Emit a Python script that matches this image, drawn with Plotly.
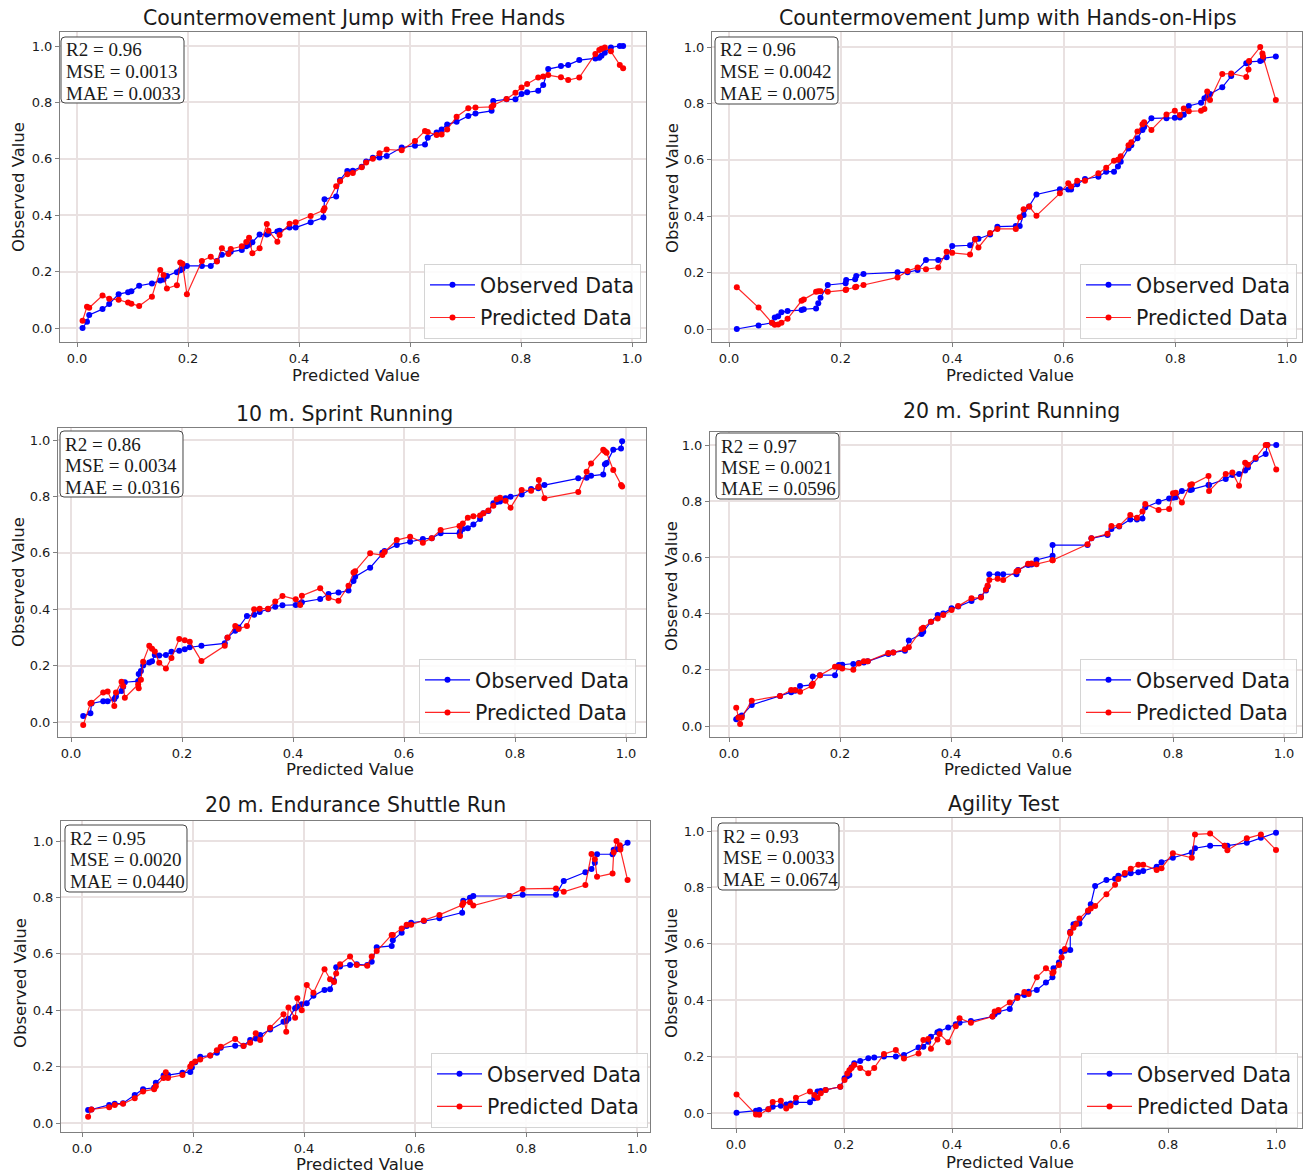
import plotly.graph_objects as go

W, H = 1308, 1173

# ---------------- DATA ----------------
titles = ["Countermovement Jump with Free Hands", "Countermovement Jump with Hands-on-Hips",
          "10 m. Sprint Running", "20 m. Sprint Running",
          "20 m. Endurance Shuttle Run", "Agility Test"]
r2_vals = ["0.96", "0.96", "0.86", "0.97", "0.95", "0.93"]
mse_vals = ["0.0013", "0.0042", "0.0034", "0.0021", "0.0020", "0.0033"]
mae_vals = ["0.0033", "0.0075", "0.0316", "0.0596", "0.0440", "0.0674"]
tick_vals = [0.0, 0.2, 0.4, 0.6, 0.8, 1.0]
tick_text = ["0.0", "0.2", "0.4", "0.6", "0.8", "1.0"]

cmj_free_x = [0.010, 0.018, 0.022, 0.046, 0.058, 0.075, 0.092, 0.098, 0.112, 0.135, 0.150, 0.156, 0.162, 0.180, 0.186, 0.190, 0.198, 0.225, 0.241, 0.252, 0.261, 0.273, 0.277, 0.297, 0.305, 0.310, 0.316, 0.329, 0.342, 0.345, 0.361, 0.365, 0.383, 0.394, 0.421, 0.444, 0.446, 0.467, 0.474, 0.487, 0.497, 0.513, 0.521, 0.533, 0.545, 0.558, 0.585, 0.609, 0.627, 0.632, 0.648, 0.657, 0.667, 0.684, 0.705, 0.718, 0.747, 0.750, 0.774, 0.790, 0.801, 0.811, 0.831, 0.840, 0.849, 0.872, 0.885, 0.905, 0.934, 0.941, 0.945, 0.951, 0.962, 0.978, 0.984]
cmj_free_obs = [0.000, 0.022, 0.046, 0.067, 0.085, 0.120, 0.127, 0.130, 0.150, 0.158, 0.168, 0.172, 0.184, 0.198, 0.205, 0.210, 0.220, 0.220, 0.220, 0.238, 0.260, 0.265, 0.270, 0.277, 0.290, 0.295, 0.304, 0.332, 0.332, 0.335, 0.342, 0.345, 0.356, 0.356, 0.375, 0.392, 0.457, 0.466, 0.525, 0.557, 0.558, 0.572, 0.590, 0.604, 0.605, 0.610, 0.640, 0.646, 0.651, 0.675, 0.693, 0.704, 0.722, 0.731, 0.752, 0.761, 0.770, 0.805, 0.811, 0.811, 0.830, 0.836, 0.841, 0.862, 0.918, 0.929, 0.933, 0.950, 0.956, 0.958, 0.965, 0.976, 0.995, 1.000, 1.000]
cmj_free_pred = [0.026, 0.075, 0.072, 0.115, 0.104, 0.100, 0.090, 0.086, 0.078, 0.111, 0.206, 0.188, 0.140, 0.152, 0.232, 0.228, 0.120, 0.238, 0.253, 0.236, 0.283, 0.262, 0.280, 0.290, 0.305, 0.320, 0.265, 0.283, 0.369, 0.345, 0.306, 0.330, 0.370, 0.375, 0.397, 0.417, 0.425, 0.503, 0.520, 0.545, 0.550, 0.570, 0.587, 0.600, 0.620, 0.633, 0.630, 0.663, 0.699, 0.695, 0.684, 0.686, 0.704, 0.749, 0.779, 0.782, 0.784, 0.790, 0.812, 0.834, 0.853, 0.865, 0.888, 0.892, 0.897, 0.889, 0.879, 0.888, 0.972, 0.986, 0.990, 0.995, 0.981, 0.933, 0.921]

cmj_hips_x = [0.014, 0.053, 0.077, 0.082, 0.088, 0.094, 0.105, 0.130, 0.134, 0.156, 0.160, 0.164, 0.177, 0.209, 0.210, 0.226, 0.228, 0.241, 0.302, 0.320, 0.338, 0.353, 0.375, 0.390, 0.400, 0.432, 0.441, 0.447, 0.468, 0.481, 0.514, 0.521, 0.528, 0.538, 0.551, 0.593, 0.608, 0.613, 0.624, 0.638, 0.662, 0.676, 0.690, 0.697, 0.702, 0.716, 0.721, 0.732, 0.741, 0.744, 0.757, 0.784, 0.799, 0.808, 0.815, 0.824, 0.846, 0.852, 0.857, 0.862, 0.884, 0.900, 0.927, 0.931, 0.932, 0.952, 0.956, 0.957, 0.980]
cmj_hips_obs = [0.000, 0.012, 0.022, 0.041, 0.045, 0.059, 0.064, 0.067, 0.070, 0.073, 0.091, 0.111, 0.156, 0.162, 0.174, 0.176, 0.188, 0.195, 0.201, 0.201, 0.209, 0.245, 0.245, 0.254, 0.294, 0.297, 0.318, 0.320, 0.335, 0.363, 0.365, 0.365, 0.404, 0.434, 0.477, 0.496, 0.495, 0.495, 0.513, 0.532, 0.540, 0.558, 0.558, 0.576, 0.593, 0.640, 0.652, 0.676, 0.706, 0.716, 0.747, 0.747, 0.749, 0.750, 0.760, 0.791, 0.802, 0.818, 0.825, 0.833, 0.857, 0.897, 0.942, 0.945, 0.947, 0.950, 0.955, 0.960, 0.966]
cmj_hips_pred = [0.148, 0.076, 0.022, 0.015, 0.016, 0.022, 0.036, 0.100, 0.105, 0.132, 0.134, 0.134, 0.132, 0.138, 0.140, 0.148, 0.150, 0.156, 0.183, 0.206, 0.218, 0.212, 0.218, 0.274, 0.270, 0.264, 0.318, 0.289, 0.340, 0.355, 0.355, 0.396, 0.425, 0.434, 0.402, 0.481, 0.517, 0.505, 0.526, 0.526, 0.552, 0.572, 0.597, 0.600, 0.613, 0.652, 0.662, 0.700, 0.726, 0.733, 0.706, 0.761, 0.774, 0.759, 0.782, 0.772, 0.774, 0.780, 0.842, 0.812, 0.904, 0.906, 0.894, 0.920, 0.950, 1.000, 0.977, 0.966, 0.812]

sprint10_x = [0.022, 0.035, 0.037, 0.058, 0.066, 0.078, 0.081, 0.091, 0.094, 0.097, 0.121, 0.122, 0.126, 0.130, 0.141, 0.146, 0.151, 0.159, 0.171, 0.181, 0.195, 0.205, 0.214, 0.235, 0.277, 0.282, 0.296, 0.302, 0.317, 0.330, 0.340, 0.355, 0.368, 0.381, 0.405, 0.413, 0.416, 0.449, 0.464, 0.482, 0.500, 0.509, 0.512, 0.539, 0.561, 0.565, 0.587, 0.611, 0.634, 0.650, 0.666, 0.700, 0.701, 0.706, 0.715, 0.725, 0.737, 0.743, 0.752, 0.761, 0.767, 0.773, 0.783, 0.792, 0.812, 0.829, 0.842, 0.843, 0.853, 0.914, 0.929, 0.937, 0.959, 0.962, 0.965, 0.977, 0.991, 0.993]
sprint10_obs = [0.021, 0.031, 0.066, 0.074, 0.074, 0.082, 0.090, 0.110, 0.125, 0.141, 0.145, 0.170, 0.181, 0.200, 0.211, 0.215, 0.238, 0.236, 0.238, 0.249, 0.253, 0.258, 0.265, 0.270, 0.279, 0.299, 0.324, 0.335, 0.376, 0.380, 0.390, 0.400, 0.409, 0.414, 0.415, 0.420, 0.425, 0.436, 0.454, 0.459, 0.466, 0.500, 0.515, 0.547, 0.600, 0.606, 0.628, 0.639, 0.649, 0.652, 0.669, 0.669, 0.675, 0.684, 0.687, 0.700, 0.720, 0.740, 0.748, 0.776, 0.780, 0.782, 0.793, 0.799, 0.807, 0.826, 0.829, 0.835, 0.840, 0.864, 0.866, 0.873, 0.878, 0.914, 0.918, 0.965, 0.970, 0.996]
sprint10_pred = [-0.011, 0.066, 0.068, 0.105, 0.108, 0.057, 0.105, 0.143, 0.128, 0.086, 0.133, 0.120, 0.150, 0.214, 0.270, 0.260, 0.250, 0.210, 0.190, 0.227, 0.294, 0.290, 0.285, 0.216, 0.270, 0.300, 0.340, 0.330, 0.340, 0.400, 0.402, 0.402, 0.427, 0.447, 0.435, 0.415, 0.448, 0.474, 0.440, 0.430, 0.483, 0.530, 0.535, 0.598, 0.592, 0.603, 0.645, 0.657, 0.636, 0.652, 0.681, 0.695, 0.660, 0.704, 0.724, 0.730, 0.732, 0.740, 0.750, 0.767, 0.790, 0.795, 0.785, 0.760, 0.823, 0.820, 0.833, 0.858, 0.793, 0.816, 0.887, 0.917, 0.965, 0.960, 0.955, 0.894, 0.840, 0.835]

sprint20_x = [0.013, 0.017, 0.020, 0.023, 0.041, 0.092, 0.112, 0.119, 0.128, 0.149, 0.151, 0.164, 0.191, 0.198, 0.204, 0.224, 0.234, 0.243, 0.250, 0.287, 0.296, 0.317, 0.324, 0.347, 0.350, 0.364, 0.376, 0.386, 0.401, 0.413, 0.437, 0.454, 0.463, 0.466, 0.469, 0.484, 0.494, 0.518, 0.521, 0.539, 0.545, 0.554, 0.583, 0.583, 0.646, 0.653, 0.682, 0.689, 0.703, 0.723, 0.735, 0.745, 0.750, 0.774, 0.793, 0.800, 0.805, 0.816, 0.831, 0.834, 0.864, 0.865, 0.895, 0.907, 0.919, 0.930, 0.935, 0.949, 0.967, 0.970, 0.986]
sprint20_obs = [0.024, 0.030, 0.033, 0.037, 0.075, 0.107, 0.120, 0.125, 0.142, 0.146, 0.176, 0.181, 0.181, 0.217, 0.218, 0.221, 0.224, 0.226, 0.230, 0.256, 0.262, 0.268, 0.304, 0.327, 0.335, 0.371, 0.395, 0.400, 0.419, 0.425, 0.445, 0.460, 0.482, 0.496, 0.540, 0.540, 0.540, 0.540, 0.555, 0.573, 0.575, 0.591, 0.606, 0.644, 0.644, 0.668, 0.680, 0.701, 0.710, 0.735, 0.735, 0.738, 0.778, 0.798, 0.810, 0.812, 0.814, 0.836, 0.840, 0.842, 0.858, 0.858, 0.879, 0.893, 0.897, 0.909, 0.920, 0.950, 0.968, 1.000, 1.000]
sprint20_pred = [0.065, 0.030, 0.007, 0.030, 0.090, 0.107, 0.128, 0.128, 0.122, 0.142, 0.150, 0.181, 0.211, 0.210, 0.205, 0.200, 0.222, 0.230, 0.230, 0.260, 0.262, 0.273, 0.280, 0.345, 0.350, 0.371, 0.383, 0.395, 0.413, 0.427, 0.455, 0.457, 0.486, 0.500, 0.520, 0.524, 0.520, 0.550, 0.553, 0.577, 0.578, 0.576, 0.590, 0.590, 0.647, 0.668, 0.684, 0.712, 0.712, 0.751, 0.741, 0.763, 0.790, 0.769, 0.772, 0.828, 0.830, 0.795, 0.858, 0.860, 0.890, 0.836, 0.897, 0.902, 0.855, 0.937, 0.930, 0.955, 1.000, 1.000, 0.913]

shuttle_x = [0.011, 0.017, 0.049, 0.059, 0.074, 0.095, 0.110, 0.130, 0.133, 0.147, 0.151, 0.155, 0.181, 0.195, 0.198, 0.204, 0.213, 0.231, 0.243, 0.250, 0.276, 0.291, 0.303, 0.313, 0.321, 0.339, 0.363, 0.368, 0.372, 0.384, 0.388, 0.396, 0.405, 0.417, 0.437, 0.447, 0.454, 0.458, 0.465, 0.483, 0.495, 0.514, 0.522, 0.531, 0.558, 0.560, 0.576, 0.585, 0.593, 0.616, 0.644, 0.685, 0.687, 0.699, 0.705, 0.770, 0.794, 0.854, 0.868, 0.907, 0.918, 0.924, 0.928, 0.956, 0.958, 0.963, 0.969, 0.970, 0.983]
shuttle_obs = [0.046, 0.048, 0.064, 0.068, 0.070, 0.099, 0.120, 0.125, 0.143, 0.168, 0.170, 0.170, 0.178, 0.181, 0.197, 0.215, 0.235, 0.239, 0.249, 0.267, 0.274, 0.274, 0.294, 0.300, 0.312, 0.332, 0.359, 0.362, 0.370, 0.407, 0.412, 0.421, 0.425, 0.451, 0.472, 0.474, 0.504, 0.552, 0.555, 0.560, 0.563, 0.560, 0.572, 0.623, 0.628, 0.648, 0.675, 0.699, 0.710, 0.716, 0.726, 0.746, 0.788, 0.799, 0.805, 0.805, 0.809, 0.809, 0.858, 0.889, 0.901, 0.923, 0.953, 0.953, 0.969, 0.971, 0.975, 0.978, 0.994]
shuttle_pred = [0.022, 0.048, 0.056, 0.064, 0.068, 0.088, 0.112, 0.120, 0.130, 0.160, 0.180, 0.160, 0.170, 0.200, 0.210, 0.218, 0.225, 0.239, 0.258, 0.270, 0.298, 0.273, 0.285, 0.318, 0.294, 0.338, 0.386, 0.324, 0.410, 0.373, 0.442, 0.400, 0.489, 0.462, 0.545, 0.510, 0.500, 0.530, 0.563, 0.590, 0.560, 0.558, 0.590, 0.610, 0.667, 0.667, 0.690, 0.703, 0.703, 0.718, 0.738, 0.773, 0.780, 0.783, 0.771, 0.805, 0.830, 0.832, 0.820, 0.844, 0.954, 0.935, 0.873, 0.885, 0.960, 1.000, 0.985, 0.970, 0.862]

agility_x = [0.001, 0.037, 0.043, 0.060, 0.068, 0.083, 0.093, 0.101, 0.111, 0.137, 0.145, 0.151, 0.157, 0.166, 0.193, 0.201, 0.206, 0.210, 0.214, 0.219, 0.230, 0.245, 0.256, 0.274, 0.296, 0.311, 0.338, 0.347, 0.356, 0.361, 0.373, 0.377, 0.393, 0.407, 0.414, 0.435, 0.475, 0.479, 0.486, 0.507, 0.521, 0.534, 0.542, 0.557, 0.574, 0.586, 0.588, 0.598, 0.603, 0.609, 0.619, 0.619, 0.625, 0.630, 0.636, 0.652, 0.657, 0.665, 0.686, 0.702, 0.708, 0.720, 0.731, 0.745, 0.754, 0.779, 0.788, 0.809, 0.844, 0.850, 0.878, 0.905, 0.910, 0.946, 0.972, 1.000]
agility_obs = [0.001, 0.008, 0.011, 0.013, 0.022, 0.026, 0.030, 0.034, 0.038, 0.038, 0.052, 0.076, 0.078, 0.082, 0.093, 0.123, 0.130, 0.135, 0.162, 0.176, 0.184, 0.194, 0.197, 0.200, 0.200, 0.206, 0.232, 0.235, 0.253, 0.270, 0.286, 0.290, 0.303, 0.315, 0.320, 0.326, 0.342, 0.350, 0.359, 0.369, 0.415, 0.418, 0.430, 0.436, 0.463, 0.481, 0.513, 0.534, 0.572, 0.575, 0.578, 0.643, 0.669, 0.672, 0.672, 0.714, 0.740, 0.805, 0.826, 0.831, 0.841, 0.845, 0.850, 0.854, 0.858, 0.873, 0.889, 0.905, 0.924, 0.939, 0.948, 0.948, 0.948, 0.958, 0.976, 0.994]
agility_pred = [0.066, -0.005, -0.006, 0.013, 0.039, 0.043, 0.016, 0.026, 0.054, 0.076, 0.064, 0.054, 0.070, 0.082, 0.093, 0.117, 0.140, 0.152, 0.160, 0.170, 0.160, 0.141, 0.160, 0.209, 0.223, 0.193, 0.211, 0.259, 0.262, 0.228, 0.261, 0.280, 0.251, 0.308, 0.336, 0.320, 0.342, 0.360, 0.365, 0.392, 0.408, 0.429, 0.422, 0.481, 0.513, 0.496, 0.500, 0.525, 0.551, 0.582, 0.637, 0.640, 0.657, 0.670, 0.690, 0.718, 0.725, 0.734, 0.776, 0.809, 0.830, 0.851, 0.866, 0.880, 0.880, 0.862, 0.868, 0.921, 0.905, 0.988, 0.991, 0.948, 0.932, 0.974, 0.988, 0.933]

series_x = [cmj_free_x, cmj_hips_x, sprint10_x, sprint20_x, shuttle_x, agility_x]
series_obs = [cmj_free_obs, cmj_hips_obs, sprint10_obs, sprint20_obs, shuttle_obs, agility_obs]
series_pred = [cmj_free_pred, cmj_hips_pred, sprint10_pred, sprint20_pred, shuttle_pred, agility_pred]

# ---------------- LAYOUT (pixel geometry) ----------------
# frame: left, right, top, bottom ; xmap: px of x=0, x=1 ; ymap: py of y=0, y=1
panels = [
    dict(frame=(60, 646, 32, 342), xmap=(77, 632), ymap=(328, 46),
         title=(354, 18), xt=(356, 375), yt=(18, 187), box=(61, 37, 184, 103), leg=(641, 339)),
    dict(frame=(712, 1302, 32, 342), xmap=(729, 1287), ymap=(329, 47),
         title=(1008, 18), xt=(1010, 375), yt=(672, 188), box=(715, 37, 838, 104), leg=(1297, 339)),
    dict(frame=(58, 646, 428, 737), xmap=(71, 626), ymap=(722, 440),
         title=(344, 414), xt=(350, 769), yt=(18, 582), box=(60, 431, 183, 497), leg=(636, 734)),
    dict(frame=(710, 1302, 432, 737), xmap=(729, 1284), ymap=(726, 445),
         title=(1012, 411), xt=(1008, 769), yt=(671, 586), box=(716, 433, 839, 499), leg=(1297, 734)),
    dict(frame=(61, 650, 821, 1132), xmap=(82, 637), ymap=(1123, 841),
         title=(355, 805), xt=(360, 1164), yt=(20, 983), box=(65, 825, 187, 892), leg=(648, 1128)),
    dict(frame=(712, 1302, 818, 1128), xmap=(736, 1276), ymap=(1113, 831),
         title=(1003, 804), xt=(1010, 1162), yt=(671, 973), box=(718, 823, 839, 890), leg=(1298, 1128)),
]

BLUE = "#0000ff"
RED = "#ff0000"
GRID = "#e9e1e1"
FRAME = "#7f7f7f"
TXT = "#1a1a1a"
SANS = "DejaVu Sans"
SERIF = "Liberation Serif"

fig = go.Figure()
layout = dict(width=W, height=H, margin=dict(l=0, r=0, t=0, b=0),
              paper_bgcolor="white", plot_bgcolor="white", showlegend=True,
              font=dict(family=SANS, color=TXT))
annotations = []
shapes = []

def px2x(px):
    return px / W

def py2y(py):
    return 1 - py / H

def rounded_box(l, t, r, b, rad=4):
    xl, xr = px2x(l), px2x(r)
    yt, yb = py2y(t), py2y(b)
    dx, dy = rad / W, rad / H
    return ("M %f,%f L %f,%f Q %f,%f %f,%f L %f,%f Q %f,%f %f,%f "
            "L %f,%f Q %f,%f %f,%f L %f,%f Q %f,%f %f,%f Z") % (
        xl + dx, yt, xr - dx, yt, xr, yt, xr, yt - dy,
        xr, yb + dy, xr, yb, xr - dx, yb,
        xl + dx, yb, xl, yb, xl, yb + dy,
        xl, yt - dy, xl, yt, xl + dx, yt)

for i, p in enumerate(panels):
    n = i + 1
    sfx = "" if n == 1 else str(n)
    L, R, T, B = p["frame"]
    x0, x1 = p["xmap"]
    y0, y1 = p["ymap"]
    xr = [(L - x0) / (x1 - x0), (R - x0) / (x1 - x0)]
    yr = [(y0 - B) / (y0 - y1), (y0 - T) / (y0 - y1)]
    legname = "legend" if n == 1 else "legend%d" % n

    fig.add_trace(go.Scatter(x=series_x[i], y=series_obs[i], mode="lines+markers",
                             name="Observed Data", xaxis="x" + sfx, yaxis="y" + sfx,
                             line=dict(color=BLUE, width=1.2),
                             marker=dict(color=BLUE, size=6),
                             legend=legname, legendgroup="obs%d" % n))
    fig.add_trace(go.Scatter(x=series_x[i], y=series_pred[i], mode="lines+markers",
                             name="Predicted Data", xaxis="x" + sfx, yaxis="y" + sfx,
                             line=dict(color="rgba(255,0,0,0.85)", width=1.2),
                             marker=dict(color=RED, size=6),
                             legend=legname, legendgroup="pred%d" % n))

    axcommon = dict(showgrid=True, gridcolor=GRID, gridwidth=2, zeroline=False,
                    showline=True, linecolor=FRAME, linewidth=1, mirror=True,
                    ticks="outside", ticklen=4, tickcolor=FRAME,
                    tickvals=tick_vals, ticktext=tick_text,
                    tickfont=dict(family=SANS, size=13, color=TXT))
    layout["xaxis" + sfx] = dict(axcommon, domain=[px2x(L), px2x(R)], range=xr,
                                 anchor="y" + sfx)
    layout["yaxis" + sfx] = dict(axcommon, domain=[py2y(B), py2y(T)], range=yr,
                                 anchor="x" + sfx)

    layout[legname] = dict(x=px2x(p["leg"][0]), y=py2y(p["leg"][1]),
                           xanchor="right", yanchor="bottom",
                           bgcolor="rgba(255,255,255,0.85)", bordercolor="#d4d4d4",
                           borderwidth=1, itemwidth=45, tracegroupgap=3,
                           font=dict(family=SANS, size=20.5, color=TXT))

    annotations.append(dict(text=titles[i], x=px2x(p["title"][0]), y=py2y(p["title"][1]),
                            xref="paper", yref="paper", showarrow=False,
                            xanchor="center", yanchor="middle",
                            font=dict(family=SANS, size=20.5, color=TXT)))
    annotations.append(dict(text="Predicted Value", x=px2x(p["xt"][0]), y=py2y(p["xt"][1]),
                            xref="paper", yref="paper", showarrow=False,
                            xanchor="center", yanchor="middle",
                            font=dict(family=SANS, size=16.5, color=TXT)))
    annotations.append(dict(text="Observed Value", x=px2x(p["yt"][0]), y=py2y(p["yt"][1]),
                            xref="paper", yref="paper", showarrow=False, textangle=-90,
                            xanchor="center", yanchor="middle",
                            font=dict(family=SANS, size=16.5, color=TXT)))

    bl, bt, br, bb = p["box"]
    shapes.append(dict(type="path", xref="paper", yref="paper",
                       path=rounded_box(bl, bt, br, bb),
                       fillcolor="white", line=dict(color="#444444", width=1), layer="above"))
    lines = ["R2 = %s" % r2_vals[i], "MSE = %s" % mse_vals[i], "MAE = %s" % mae_vals[i]]
    for k, txt in enumerate(lines):
        annotations.append(dict(text=txt, x=px2x(bl + 3), y=py2y(bt + 13 + 21.5 * k),
                                xref="paper", yref="paper", showarrow=False, align="left",
                                xanchor="left", yanchor="middle",
                                font=dict(family=SERIF, size=19, color=TXT)))

layout["annotations"] = annotations
layout["shapes"] = shapes
fig.update_layout(**layout)
fig.write_html("out.html", config={"displayModeBar": False},
               post_script="document.body.style.margin='0';document.body.style.overflow='hidden';")
